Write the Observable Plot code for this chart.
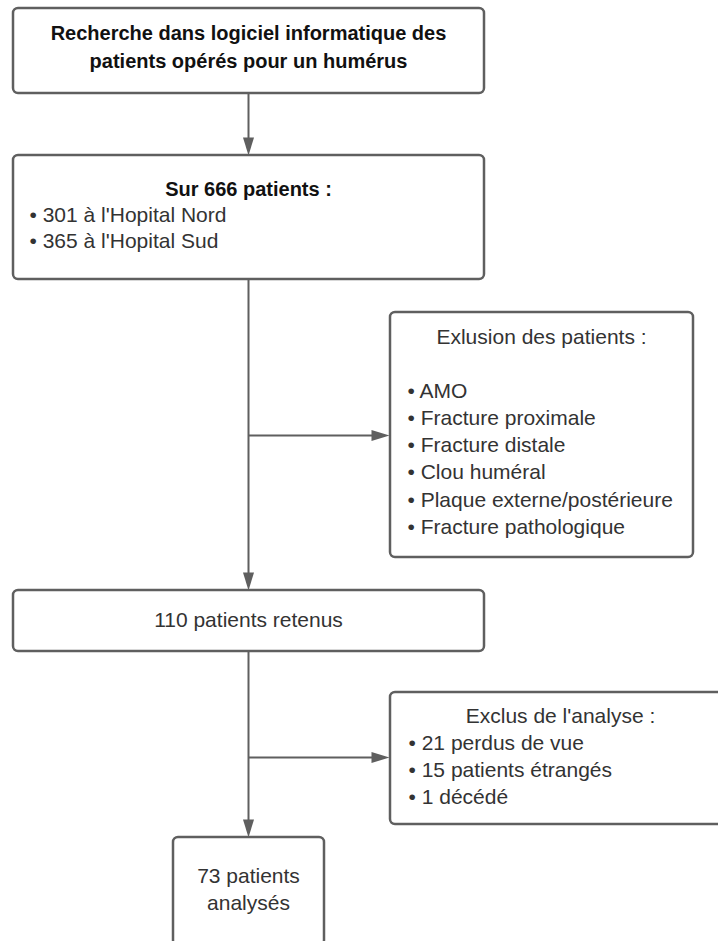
<!DOCTYPE html>
<html>
<head>
<meta charset="utf-8">
<script src="https://cdn.jsdelivr.net/npm/d3@7"></script>
<script src="https://cdn.jsdelivr.net/npm/@observablehq/plot@0.6"></script>
<style>
  html, body { margin: 0; padding: 0; background: #fff; }
  #chart svg { display: block; }
</style>
</head>
<body>
<div id="chart"></div>
<script>
// ---- Flowchart content (text) ----
const box1Lines = ["Recherche dans logiciel informatique des", "patients opérés pour un humérus"];
const box2Title = "Sur 666 patients :";
const box2Items = ["• 301 à l'Hopital Nord", "• 365 à l'Hopital Sud"];
const exclTitle = "Exlusion des patients :";
const exclItems = ["• AMO", "• Fracture proximale", "• Fracture distale", "• Clou huméral", "• Plaque externe/postérieure", "• Fracture pathologique"];
const box3Text = "110 patients retenus";
const excl2Title = "Exclus de l'analyse :";
const excl2Items = ["• 21 perdus de vue", "• 15 patients étrangés", "• 1 décédé"];
const box4Lines = ["73 patients", "analysés"];

// ---- Layout (in page pixels) ----
const W = 718, H = 941;
const spineX = 248;
const boxes = [
  {x1: 13,  x2: 484, y1: 8,   y2: 93},
  {x1: 13,  x2: 484, y1: 155, y2: 279},
  {x1: 390, x2: 693, y1: 312, y2: 557},
  {x1: 13,  x2: 484, y1: 590, y2: 651},
  {x1: 390, x2: 730, y1: 692, y2: 824},
  {x1: 173, x2: 324, y1: 837, y2: 945}
];
const segments = [
  {x1: spineX, y1: 93,  x2: spineX, y2: 150},
  {x1: spineX, y1: 279, x2: spineX, y2: 585},
  {x1: spineX, y1: 435, x2: 384,    y2: 435},
  {x1: spineX, y1: 651, x2: spineX, y2: 832},
  {x1: spineX, y1: 757, x2: 384,    y2: 757}
];
const heads = [
  {x: spineX, y: 155, r: 0},
  {x: 389, y: 435, r: -90},
  {x: spineX, y: 590, r: 0},
  {x: 389, y: 757, r: -90},
  {x: spineX, y: 837, r: 0}
];

// text rows: [text, x, baseline y, anchor, weight]
const texts = [];
box1Lines.forEach((t, i) => texts.push({t, x: 248, y: 39 + i * 28, a: "middle", w: "bold"}));
texts.push({t: box2Title, x: 248, y: 195, a: "middle", w: "bold"});
box2Items.forEach((t, i) => texts.push({t, x: 29, y: 221 + i * 26, a: "start", w: "normal"}));
texts.push({t: exclTitle, x: 541, y: 343, a: "middle", w: "normal"});
exclItems.forEach((t, i) => texts.push({t, x: 407, y: 397 + i * 27.3, a: "start", w: "normal"}));
texts.push({t: box3Text, x: 248, y: 626, a: "middle", w: "normal"});
texts.push({t: excl2Title, x: 560, y: 722, a: "middle", w: "normal"});
excl2Items.forEach((t, i) => texts.push({t, x: 408, y: 749 + i * 27, a: "start", w: "normal"}));
box4Lines.forEach((t, i) => texts.push({t, x: 248, y: 882 + i * 27, a: "middle", w: "normal"}));

const headSymbol = {
  draw(ctx) {
    ctx.moveTo(0, 0);
    ctx.lineTo(-5.5, -18);
    ctx.lineTo(5.5, -18);
    ctx.closePath();
  }
};

const stroke = "#5f5f5f";
const chart = Plot.plot({
  width: W, height: H,
  margin: 0,
  x: {domain: [0, W], axis: null},
  y: {domain: [0, H], reverse: true, axis: null},
  style: {fontFamily: "'Liberation Sans', Arial, sans-serif", background: "#fff"},
  marks: [
    Plot.link(segments, {x1: "x1", y1: "y1", x2: "x2", y2: "y2", stroke, strokeWidth: 2}),
    Plot.dot(heads, {x: "x", y: "y", rotate: "r", symbol: headSymbol, fill: stroke, stroke: "none", r: 5}),
    Plot.rect(boxes, {x1: "x1", x2: "x2", y1: "y1", y2: "y2", fill: "#fff", stroke, strokeWidth: 2.5, rx: 5}),
    Plot.text(texts.filter(d => d.w === "bold"), {x: "x", y: "y", text: "t", textAnchor: "middle", lineAnchor: "bottom", fontSize: 20, fontWeight: "bold", fill: "#111"}),
    Plot.text(texts.filter(d => d.w !== "bold" && d.a === "middle"), {x: "x", y: "y", text: "t", textAnchor: "middle", lineAnchor: "bottom", fontSize: 21, fill: "#333"}),
    Plot.text(texts.filter(d => d.w !== "bold" && d.a === "start"), {x: "x", y: "y", text: "t", textAnchor: "start", lineAnchor: "bottom", fontSize: 21, fill: "#333"})
  ]
});
document.getElementById("chart").appendChild(chart);
</script>
</body>
</html>
